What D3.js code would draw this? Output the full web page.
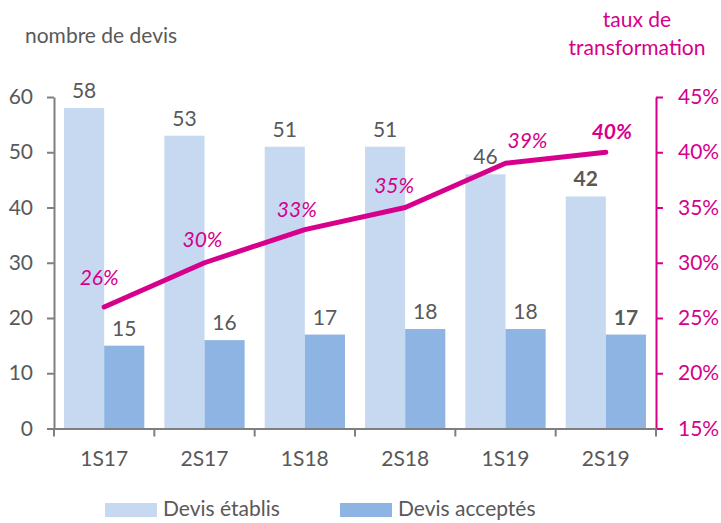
<!DOCTYPE html>
<html>
<head>
<meta charset="utf-8">
<script src="https://cdn.jsdelivr.net/npm/d3@7"></script>
<style>
  body { margin: 0; background: #fff; }
  svg text { font-family: Lato, "Open Sans", sans-serif; }
</style>
</head>
<body>
<div id="chart"></div>
<script>
// data
var periods = ["1S17", "2S17", "1S18", "2S18", "1S19", "2S19"];
var devisEtablis = [58, 53, 51, 51, 46, 42];
var devisAcceptes = [15, 16, 17, 18, 18, 17];
var tauxTransfo = [0.26, 0.30, 0.33, 0.35, 0.39, 0.40];
var seriesNames = ["Devis établis", "Devis acceptés"];

var width = 721,
  height = 523;

var grey = "#595959",
  axisGrey = "#7f7f7f",
  pink = "#d6008c",
  light = "#c6d9f1",
  dark = "#8eb4e3";

var fs = "21px";

// nudges for the % labels (manual placement in the original)
var labelNudge = [[-5, -29], [-2, -23], [-8, -20], [-11, -22], [22, -22], [6, -20]];

var svg = d3.select("#chart")
  .append("svg")
  .attr("width", width)
  .attr("height", height);

var x = d3.scaleBand()
  .domain(periods)
  .range([54, 656])
  .paddingInner(0.2)
  .paddingOuter(0.1);

var x1 = d3.scaleBand()
  .domain(seriesNames)
  .range([0, x.bandwidth()]);

var yL = d3.scaleLinear().domain([0, 60]).range([428.5, 97]);
var yR = d3.scaleLinear().domain([0.15, 0.45]).range([428.5, 97]);

// bars
var groups = svg.append("g")
  .selectAll("g")
  .data(periods)
  .enter().append("g")
  .attr("transform", function (d) { return "translate(" + x(d) + ",0)"; });

groups.append("rect")
  .attr("x", x1(seriesNames[0]))
  .attr("width", x1.bandwidth())
  .attr("y", function (d, i) { return yL(devisEtablis[i]); })
  .attr("height", function (d, i) { return yL(0) - yL(devisEtablis[i]); })
  .attr("fill", light);

groups.append("rect")
  .attr("x", x1(seriesNames[1]))
  .attr("width", x1.bandwidth())
  .attr("y", function (d, i) { return yL(devisAcceptes[i]); })
  .attr("height", function (d, i) { return yL(0) - yL(devisAcceptes[i]); })
  .attr("fill", dark);

// bar labels
var last = periods.length - 1;
groups.append("text")
  .attr("x", x1(seriesNames[0]) + x1.bandwidth() / 2)
  .attr("y", function (d, i) { return yL(devisEtablis[i]) - 10; })
  .attr("text-anchor", "middle")
  .style("font-size", fs)
  .style("font-weight", function (d, i) { return i == last ? "bold" : "normal"; })
  .attr("fill", grey)
  .text(function (d, i) { return devisEtablis[i]; });

groups.append("text")
  .attr("x", x1(seriesNames[1]) + x1.bandwidth() / 2)
  .attr("y", function (d, i) { return yL(devisAcceptes[i]) - 10; })
  .attr("text-anchor", "middle")
  .style("font-size", fs)
  .style("font-weight", function (d, i) { return i == last ? "bold" : "normal"; })
  .attr("fill", grey)
  .text(function (d, i) { return devisAcceptes[i]; });

// left axis
var leftAxis = svg.append("g")
  .attr("transform", "translate(54,0)")
  .call(d3.axisLeft(yL).ticks(6).tickSize(7).tickSizeOuter(0).tickPadding(14));
leftAxis.selectAll("path, line").attr("stroke", axisGrey).attr("stroke-width", 2);
leftAxis.selectAll("text").attr("fill", grey).style("font-size", fs).style("font-family", "Lato");

// right axis
var rightAxis = svg.append("g")
  .attr("transform", "translate(656,0)")
  .call(d3.axisRight(yR).ticks(6).tickFormat(d3.format(".0%")).tickSize(7).tickSizeOuter(0).tickPadding(15));
rightAxis.selectAll("path, line").attr("stroke", pink).attr("stroke-width", 2);
rightAxis.selectAll("text").attr("fill", pink).style("font-size", fs).style("font-family", "Lato");

// bottom axis
var xAxis = svg.append("g")
  .attr("transform", "translate(0," + yL(0) + ")")
  .call(d3.axisBottom(x).tickSize(0).tickPadding(23));
xAxis.select(".domain").attr("stroke", axisGrey).attr("stroke-width", 2);
xAxis.selectAll("text").attr("fill", grey).style("font-size", fs).style("font-family", "Lato");

var boundaries = d3.range(periods.length + 1).map(function (i) { return x.range()[0] + i * x.step(); });
xAxis.selectAll(".bound")
  .data(boundaries)
  .enter().append("line")
  .attr("x1", function (d) { return d; })
  .attr("x2", function (d) { return d; })
  .attr("y1", 0)
  .attr("y2", 8)
  .attr("stroke", axisGrey)
  .attr("stroke-width", 2);

// line
var line = d3.line()
  .x(function (d, i) { return x(periods[i]) + x.bandwidth() / 2; })
  .y(function (d) { return yR(d); });

svg.append("path")
  .datum(tauxTransfo)
  .attr("d", line)
  .attr("fill", "none")
  .attr("stroke", pink)
  .attr("stroke-width", 5)
  .attr("stroke-linecap", "round")
  .attr("stroke-linejoin", "round");

svg.append("g")
  .selectAll("text")
  .data(tauxTransfo)
  .enter().append("text")
  .attr("x", function (d, i) { return x(periods[i]) + x.bandwidth() / 2 + labelNudge[i][0]; })
  .attr("y", function (d, i) { return yR(d) + labelNudge[i][1] + 7; })
  .attr("text-anchor", "middle")
  .attr("fill", pink)
  .style("font-size", fs)
  .style("font-style", "italic")
  .style("font-weight", function (d, i) { return i == last ? "bold" : "normal"; })
  .text(function (d) { return d3.format(".0%")(d); });

// titles
svg.append("text")
  .attr("x", 25)
  .attr("y", 43)
  .attr("fill", grey)
  .style("font-size", fs)
  .text("nombre de devis");

svg.append("text")
  .attr("x", 637)
  .attr("y", 27)
  .attr("text-anchor", "middle")
  .attr("fill", pink)
  .style("font-size", fs)
  .text("taux de");

svg.append("text")
  .attr("x", 637)
  .attr("y", 55)
  .attr("text-anchor", "middle")
  .attr("fill", pink)
  .style("font-size", fs)
  .text("transformation");

// legend
var legend = svg.append("g")
  .selectAll("g")
  .data(seriesNames)
  .enter().append("g")
  .attr("transform", function (d, i) { return "translate(" + (105 + i * 235) + ",503)"; });

legend.append("rect")
  .attr("width", 52)
  .attr("height", 14)
  .attr("fill", function (d, i) { return i == 0 ? light : dark; });

legend.append("text")
  .attr("x", 58)
  .attr("y", 13)
  .attr("fill", grey)
  .style("font-size", fs)
  .text(function (d) { return d; });
</script>
</body>
</html>
